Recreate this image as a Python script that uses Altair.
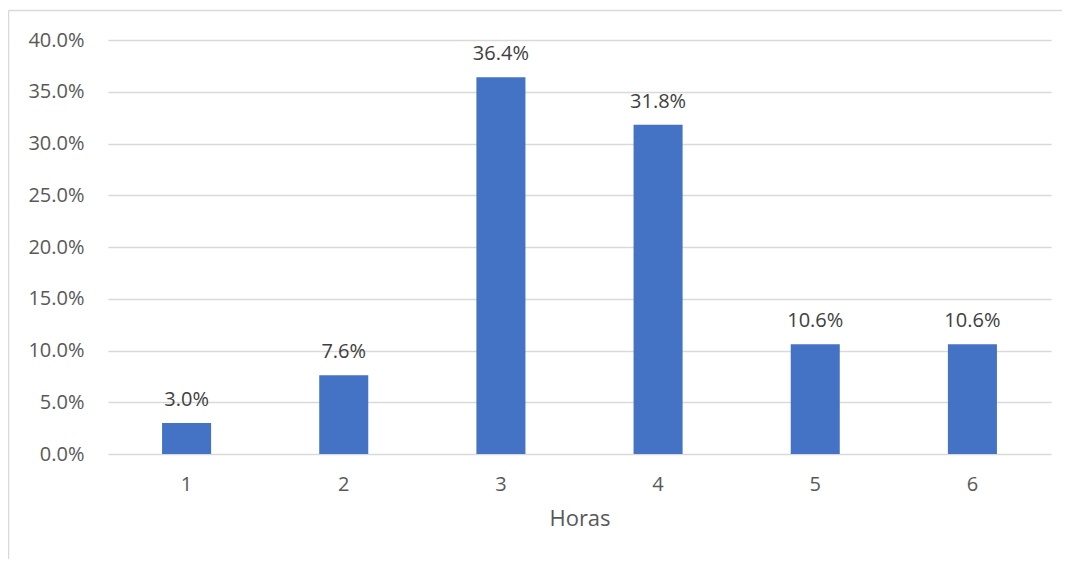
import altair as alt
import pandas as pd

horas = ["1", "2", "3", "4", "5", "6"]
porcentajes = [0.030, 0.076, 0.364, 0.318, 0.106, 0.106]

df = pd.DataFrame({"Horas": horas, "valor": porcentajes})

FONT = "Open Sans"

base = alt.Chart(df)

x_enc = alt.X(
    "Horas:O",
    sort=horas,
    scale=alt.Scale(paddingInner=0.688, paddingOuter=0.344),
    axis=alt.Axis(
        title="Horas",
        labelAngle=0,
        domain=False,
        ticks=False,
        labelPadding=20,
        labelFontSize=20,
        labelColor="#595959",
        labelFont=FONT,
        titleFont=FONT,
        titleFontSize=22,
        titleFontWeight="normal",
        titleColor="#595959",
        titlePadding=14,
    ),
)
y_enc = alt.Y(
    "valor:Q",
    scale=alt.Scale(domain=[0, 0.4], nice=False),
    axis=alt.Axis(
        title=None,
        format=".1%",
        values=[0, 0.05, 0.1, 0.15, 0.2, 0.25, 0.3, 0.35, 0.4],
        domain=False,
        ticks=False,
        labelPadding=24,
        labelFontSize=20,
        labelColor="#595959",
        labelFont=FONT,
        gridColor="#d9d9d9",
        gridWidth=1.5,
    ),
)

bars = base.mark_bar(color="#4472C4").encode(x=x_enc, y=y_enc)

labels = base.mark_text(
    font=FONT, fontSize=20, color="#404040", baseline="alphabetic", dy=-17
).encode(
    x=alt.X("Horas:O", sort=horas),
    y=alt.Y("valor:Q"),
    text=alt.Text("valor:Q", format=".1%"),
)

frame_data = alt.Data(values=[{"a": 1}])
border_left = alt.Chart(frame_data).mark_rule(color="#d9d9d9", strokeWidth=1.5).encode(
    x=alt.value(-99.5), y=alt.value(-29.5), y2=alt.value(700)
)
border_top = alt.Chart(frame_data).mark_rule(color="#d9d9d9", strokeWidth=1.5).encode(
    x=alt.value(-99.5), x2=alt.value(1200), y=alt.value(-29.5)
)

chart = alt.layer(border_left, border_top, bars, labels).properties(
    width=943,
    height=414,
    background="white",
    autosize=alt.AutoSizeParams(type="none"),
    padding={"left": 100, "top": 32, "right": 11, "bottom": 105},
).configure_view(strokeWidth=0, stroke="transparent")

chart.save("out.html", embed_options={"renderer": "svg", "actions": False})
